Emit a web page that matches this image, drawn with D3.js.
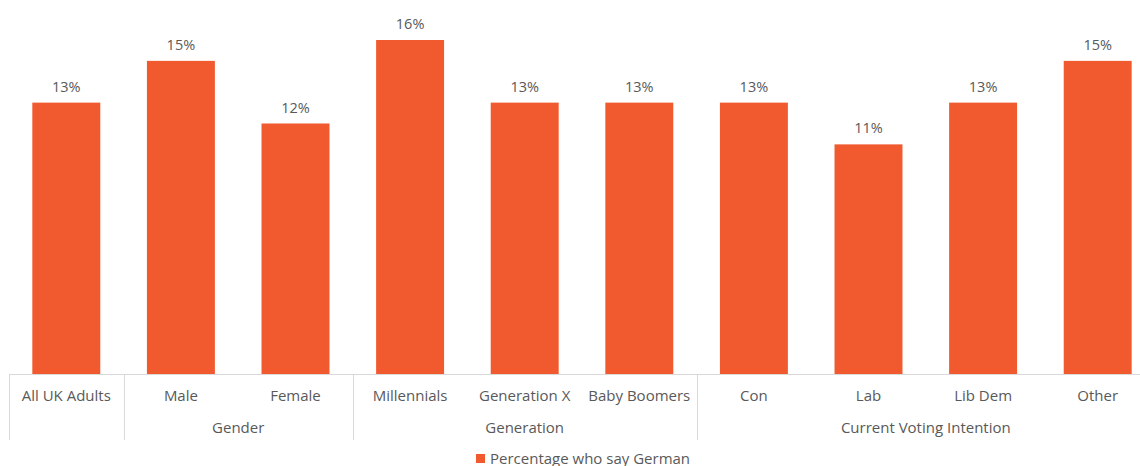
<!DOCTYPE html>
<html>
<head>
<meta charset="utf-8">
<script src="https://cdn.jsdelivr.net/npm/d3@7"></script>
<style>
  body { margin: 0; background: #fff; }
  text { font-family: "Open Sans", "Noto Sans", sans-serif; fill: #595959; }
</style>
</head>
<body>
<script>
// chart data
var categories = ["All UK Adults", "Male", "Female", "Millennials", "Generation X",
                  "Baby Boomers", "Con", "Lab", "Lib Dem", "Other"];
var values = [13, 15, 12, 16, 13, 13, 13, 11, 13, 15];
// group labels: name, first index, last index
var groupNames = ["", "Gender", "Generation", "Current Voting Intention"];
var groupStart = [0, 1, 3, 6];
var groupEnd = [0, 2, 5, 9];
var seriesName = "Percentage who say German";

var width = 1140, height = 466;
var baseY = 374;
var barColor = "#f15a2f";

var svg = d3.select("body").append("svg")
    .attr("width", width)
    .attr("height", height);

// scales
var x = d3.scaleBand()
    .domain(categories)
    .range([9, 1155])
    .paddingInner(0.407)
    .paddingOuter(0.2035);

var y = d3.scaleLinear()
    .domain([0, 16])
    .range([baseY, 40]);

// bars
svg.selectAll("rect.bar")
    .data(values)
  .enter().append("rect")
    .attr("class", "bar")
    .attr("x", function(d, i) { return x(categories[i]); })
    .attr("y", function(d) { return y(d); })
    .attr("width", x.bandwidth())
    .attr("height", function(d) { return baseY - y(d); })
    .style("fill", barColor);

// value labels
svg.selectAll("text.val")
    .data(values)
  .enter().append("text")
    .attr("class", "val")
    .attr("x", function(d, i) { return x(categories[i]) + x.bandwidth() / 2; })
    .attr("y", function(d) { return y(d) - 11; })
    .attr("text-anchor", "middle")
    .style("font-size", "14.5px")
    .text(function(d) { return d + "%"; });

// baseline
svg.append("line")
    .attr("x1", 9).attr("x2", width)
    .attr("y1", baseY + 0.5).attr("y2", baseY + 0.5)
    .style("stroke", "#d9d9d9");

// category labels
svg.selectAll("text.cat")
    .data(categories)
  .enter().append("text")
    .attr("class", "cat")
    .attr("x", function(d) { return x(d) + x.bandwidth() / 2; })
    .attr("y", 401)
    .attr("text-anchor", "middle")
    .style("font-size", "15px")
    .text(function(d) { return d; });

// group separators
var step = x.step();
var seps = groupStart.concat([categories.length]);
svg.selectAll("line.sep")
    .data(seps)
  .enter().append("line")
    .attr("class", "sep")
    .attr("x1", function(d) { return Math.round(9 + d * step) + 0.5; })
    .attr("x2", function(d) { return Math.round(9 + d * step) + 0.5; })
    .attr("y1", baseY)
    .attr("y2", 440)
    .style("stroke", "#d9d9d9");

// group labels
svg.selectAll("text.grp")
    .data(groupNames)
  .enter().append("text")
    .attr("class", "grp")
    .attr("x", function(d, i) {
      return (x(categories[groupStart[i]]) + x(categories[groupEnd[i]]) + x.bandwidth()) / 2;
    })
    .attr("y", 433)
    .attr("text-anchor", "middle")
    .style("font-size", "15px")
    .text(function(d) { return d; });

// legend
var legend = svg.append("g").attr("transform", "translate(476,454)");
legend.append("rect")
    .attr("width", 9).attr("height", 9)
    .style("fill", barColor);
legend.append("text")
    .attr("x", 14)
    .attr("y", 9.5)
    .style("font-size", "15px")
    .text(seriesName);
</script>
</body>
</html>
